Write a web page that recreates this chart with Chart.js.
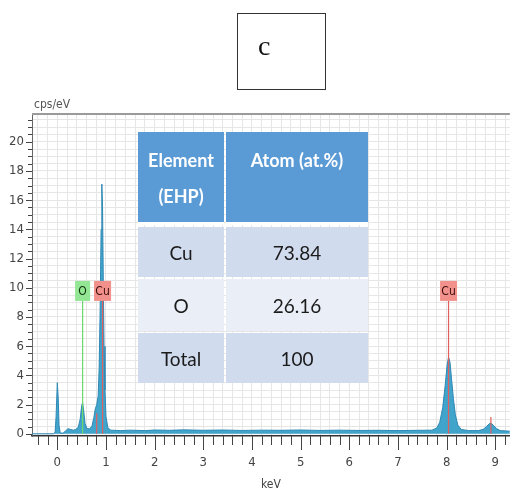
<!DOCTYPE html>
<html>
<head>
<meta charset="utf-8">
<script src="https://cdn.jsdelivr.net/npm/chart.js@4"></script>
<style>
  body { margin: 0; background: #fff; }
  #wrap { position: relative; width: 524px; height: 492px; overflow: hidden; }
  #panel { position: absolute; left: 237px; top: 13px; width: 87px; height: 75px; border: 1.5px solid #333; }
  #panel span { position: absolute; left: 20px; top: 16px; font: 28px "Liberation Serif", "DejaVu Serif", serif; color: #111; }
  #unit { position: absolute; left: 34px; top: 97px; font: 12px "Liberation Sans Narrow", "DejaVu Sans Condensed", sans-serif; color: #555; }
  #tbl { position: absolute; left: 138px; top: 132px; display: grid; grid-template-columns: 86px 142px; column-gap: 2px;
         grid-template-rows: 93px 50px 52px 50px; row-gap: 2px; font-family: Lato, "Open Sans", sans-serif; }
  #tbl .h { background: #5b9bd5; color: #fff; font-weight: bold; font-size: 18px; line-height: 36px; padding-top: 10px;
            text-align: center; border-bottom: 3px solid #fff; box-sizing: border-box; }
  #tbl .c { display: flex; align-items: center; justify-content: center; font-size: 19px; color: #1b1b1b; }
</style>
</head>
<body>
<div id="wrap">
  <canvas id="eds" width="524" height="492"></canvas>
  <div id="panel"><span>c</span></div>
  <div id="unit">cps/eV</div>
  <div id="tbl"></div>
</div>
<script>
// EDS spectrum: energy (keV) and counts (cps/eV)
const keV = [-0.52, -0.08, -0.045, -0.025, 0.0, 0.02, 0.035, 0.06, 0.12, 0.17, 0.22, 0.27, 0.33, 0.38, 0.43, 0.47, 0.5, 0.52,
  0.545, 0.57, 0.61, 0.66, 0.71, 0.75, 0.78, 0.81, 0.84, 0.86, 0.88, 0.9, 0.915, 0.93, 0.945, 0.96, 0.98, 1.0, 1.04, 1.1,
  1.3, 1.5, 1.8, 2.0, 2.3, 2.6, 3.0, 3.4, 3.8, 4.2, 4.6, 5.0, 5.4, 5.8, 6.2, 6.6, 7.0, 7.4, 7.7, 7.8, 7.86, 7.92, 7.97,
  8.01, 8.04, 8.07, 8.1, 8.14, 8.18, 8.23, 8.3, 8.45, 8.65, 8.75, 8.82, 8.88, 8.92, 8.97, 9.03, 9.1, 9.3];
const cps = [0, 0, 0.1, 1.2, 3.5, 2.4, 0.6, 0.05, 0.05, 0.2, 0.35, 0.3, 0.25, 0.3, 0.45, 1.0, 1.9, 2.15,
  1.5, 0.7, 0.35, 0.35, 0.5, 1.1, 1.7, 2.0, 2.6, 4.5, 8.5, 14, 17.1, 15.5, 10.5, 6, 3.0, 1.2, 0.4, 0.25,
  0.22, 0.25, 0.22, 0.26, 0.24, 0.27, 0.24, 0.26, 0.23, 0.25, 0.24, 0.26, 0.23, 0.25, 0.23, 0.24, 0.22, 0.24, 0.25, 0.4, 0.8, 1.8, 3.3,
  4.7, 5.25, 4.9, 3.8, 2.4, 1.3, 0.6, 0.3, 0.22, 0.22, 0.3, 0.5, 0.7, 0.72, 0.55, 0.35, 0.22, 0.18];

// element markers
const markerKeV = [0.52, 0.93, 8.04];
const markerNames = ['O', 'Cu', 'Cu'];
const markerTop = 9.1;
const minorKeV = [0.81, 8.91];
const minorTop = [1.4, 1.15];

// quantification table
const tableHead = ['Element<br>(EHP)', 'Atom (at.%)'];
const tableElements = ['Cu', 'O', 'Total'];
const tableAtoms = ['73.84', '26.16', '100'];
const rowColors = ['#d0dbee', '#e9eef7', '#d0dbee'];

const tbl = document.getElementById('tbl');
tableHead.forEach(h => { tbl.innerHTML += `<div class="h">${h}</div>`; });
tableElements.forEach((el, i) => {
  tbl.innerHTML += `<div class="c" style="background:${rowColors[i]}">${el}</div>`;
  tbl.innerHTML += `<div class="c" style="background:${rowColors[i]}">${tableAtoms[i]}</div>`;
});

const tickFont = { family: '"Liberation Sans Narrow", "DejaVu Sans Condensed", sans-serif', size: 13 };
const isInt = v => Math.abs(v - Math.round(v)) < 1e-6;
const markerColor = n => n === 'O' ? '#6cd86c' : '#e06060';

const datasets = [{
  data: keV.map((x, i) => ({ x: x, y: cps[i] })),
  borderColor: '#2f88b5', borderWidth: 1, backgroundColor: '#41a4cb',
  fill: 'origin', pointRadius: 0, tension: 0, order: 2
}];
markerKeV.forEach((x, i) => {
  datasets.push({
    data: [{ x: x, y: 0 }, { x: x, y: markerTop }],
    borderColor: markerColor(markerNames[i]), borderWidth: 1.2, pointRadius: 0, fill: false, order: 1
  });
});
minorKeV.forEach((x, i) => {
  datasets.push({
    data: [{ x: x, y: 0 }, { x: x, y: minorTop[i] }],
    borderColor: '#e06060', borderWidth: 1.2, pointRadius: 0, fill: false, order: 1
  });
});

const decor = {
  id: 'decor',
  afterDatasetsDraw(chart) {
    const { ctx, chartArea: a, scales: { x, y } } = chart;
    ctx.save();
    // top frame line
    ctx.strokeStyle = '#9a9a9a'; ctx.lineWidth = 2;
    ctx.beginPath(); ctx.moveTo(a.left, a.top); ctx.lineTo(a.right, a.top); ctx.stroke();
    // tick marks
    ctx.strokeStyle = '#444'; ctx.lineWidth = 1;
    x.ticks.forEach(t => {
      const px = Math.round(x.getPixelForValue(t.value)) + 0.5;
      ctx.beginPath(); ctx.moveTo(px, a.bottom); ctx.lineTo(px, a.bottom + (isInt(t.value) ? 14 : 9)); ctx.stroke();
    });
    y.ticks.forEach(t => {
      const py = Math.round(y.getPixelForValue(t.value)) + 0.5;
      const major = isInt(t.value) && Math.round(t.value) % 2 === 0;
      ctx.beginPath(); ctx.moveTo(a.left, py); ctx.lineTo(a.left - (major ? 6 : 4), py); ctx.stroke();
    });
    // element label boxes
    ctx.font = '12px "Liberation Sans Narrow", "DejaVu Sans Condensed", sans-serif';
    ctx.textAlign = 'center'; ctx.textBaseline = 'middle';
    markerKeV.forEach((k, i) => {
      const n = markerNames[i];
      const cx = x.getPixelForValue(k);
      const by = y.getPixelForValue(markerTop);
      const w = n === 'O' ? 15 : 17, h = 20;
      ctx.fillStyle = n === 'O' ? '#93e693' : '#f2918b';
      ctx.fillRect(cx - w / 2, by - h, w, h);
      ctx.fillStyle = n === 'O' ? '#113311' : '#3a0d0d';
      ctx.fillText(n, cx, by - h / 2 + 1);
    });
    ctx.restore();
  }
};

new Chart(document.getElementById('eds'), {
  type: 'line',
  data: { datasets: datasets },
  options: {
    responsive: false,
    animation: false,
    layout: { padding: { top: 114, left: 0, right: 0, bottom: 0 } },
    plugins: { legend: { display: false }, tooltip: { enabled: false } },
    scales: {
      x: {
        type: 'linear', min: -0.52, max: 9.3,
        afterFit: s => { s.height = 56; },
        grid: { color: '#e6e6e6', drawTicks: false },
        border: { display: true, color: '#333', width: 1.5 },
        ticks: {
          stepSize: 0.2, includeBounds: false, autoSkip: false, maxRotation: 0, padding: 19,
          font: tickFont, color: '#444',
          callback: v => isInt(v) ? String(Math.round(v)) : ''
        },
        title: { display: true, text: 'keV', font: { family: tickFont.family, size: 12 }, color: '#444', padding: { top: 0, bottom: 0 } }
      },
      y: {
        min: -0.15, max: 21.9,
        afterFit: s => { s.width = 32; },
        grid: { color: '#e6e6e6', drawTicks: false },
        border: { display: true, color: '#666', width: 1 },
        ticks: {
          stepSize: 0.5, includeBounds: false, autoSkip: false, padding: 8,
          font: tickFont, color: '#444',
          callback: v => (isInt(v) && Math.round(v) % 2 === 0) ? String(Math.round(v)) : ''
        }
      }
    }
  },
  plugins: [decor]
});
</script>
</body>
</html>
